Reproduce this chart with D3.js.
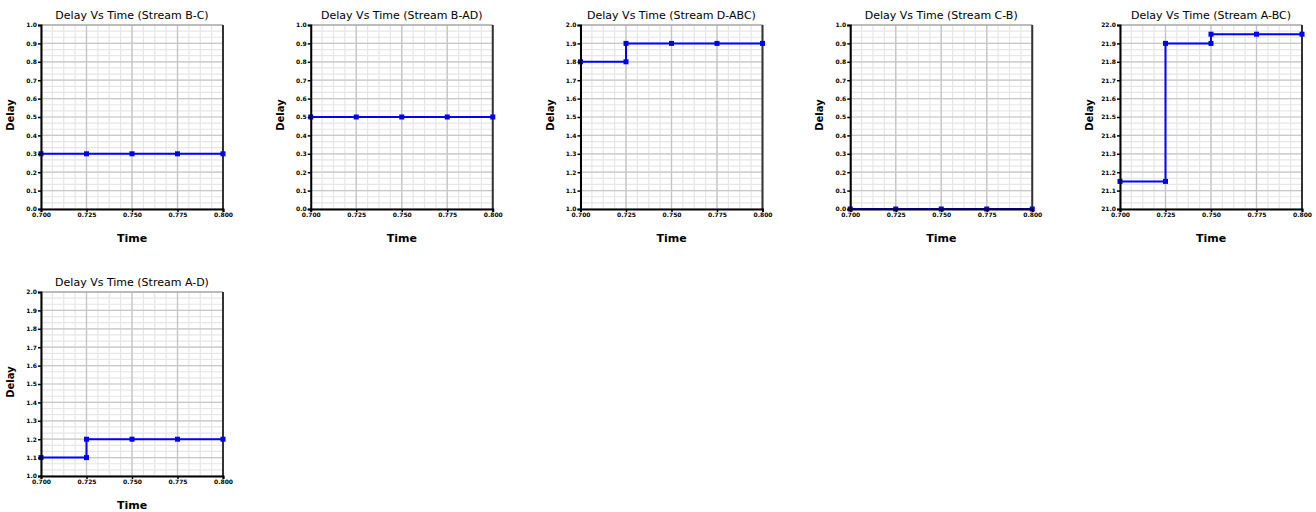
<!DOCTYPE html>
<html>
<head>
<meta charset="utf-8">
<script src="https://cdn.jsdelivr.net/npm/d3@7/dist/d3.min.js"></script>
<style>
  html, body { margin: 0; padding: 0; background: #ffffff; }
  svg { display: block; }
</style>
</head>
<body>
<svg id="chart" width="1316" height="512"></svg>
<script>
// ---------- data ----------
const titles = [
  "Delay Vs Time (Stream B-C)",
  "Delay Vs Time (Stream B-AD)",
  "Delay Vs Time (Stream D-ABC)",
  "Delay Vs Time (Stream C-B)",
  "Delay Vs Time (Stream A-BC)",
  "Delay Vs Time (Stream A-D)"
];
const timeTicks = [0.700, 0.725, 0.750, 0.775, 0.800];
const timeTickLabels = ["0.700", "0.725", "0.750", "0.775", "0.800"];
const yDomains = [
  [0, 1], [0, 1], [1, 2], [0, 1], [21, 22], [1, 2]
];
// [time, delay] samples (step-like, repeated times at transitions)
const seriesBC  = [[0.700, 0.3], [0.725, 0.3], [0.750, 0.3], [0.775, 0.3], [0.800, 0.3]];
const seriesBAD = [[0.700, 0.5], [0.725, 0.5], [0.750, 0.5], [0.775, 0.5], [0.800, 0.5]];
const seriesDABC = [[0.700, 1.8], [0.725, 1.8], [0.725, 1.9], [0.750, 1.9], [0.775, 1.9], [0.800, 1.9]];
const seriesCB  = [[0.700, 0.0], [0.725, 0.0], [0.750, 0.0], [0.775, 0.0], [0.800, 0.0]];
const seriesABC = [[0.700, 21.15], [0.725, 21.15], [0.725, 21.90], [0.750, 21.90], [0.750, 21.95], [0.775, 21.95], [0.800, 21.95]];
const seriesAD  = [[0.700, 1.1], [0.725, 1.1], [0.725, 1.2], [0.750, 1.2], [0.775, 1.2], [0.800, 1.2]];
const allSeries = [seriesBC, seriesBAD, seriesDABC, seriesCB, seriesABC, seriesAD];

// ---------- layout ----------
const svg = d3.select("#chart");
const plotW = 182, plotH = 184;
const colX = i => 41 + i * 269.75;
const rowY = r => 25 + r * 267;

allSeries.forEach((data, i) => {
  const col = i % 5, row = Math.floor(i / 5);
  const g = svg.append("g").attr("transform", `translate(${colX(col)},${rowY(row)})`);

  const x = d3.scaleLinear().domain([timeTicks[0], timeTicks[timeTicks.length - 1]]).range([0, plotW]);
  const y = d3.scaleLinear().domain(yDomains[i]).range([plotH, 0]);
  const yTicks = d3.range(11).map(k => yDomains[i][0] + k * (yDomains[i][1] - yDomains[i][0]) / 10);
  const dec = yDomains[i][1] > 10 ? 1 : 1;

  // minor grid
  const xMinor = d3.range(0, 17).map(k => timeTicks[0] + k * 0.025 / 4);
  const yMinor = d3.range(0, 31).map(k => yDomains[i][0] + k * (yDomains[i][1] - yDomains[i][0]) / 30);
  g.append("g").selectAll("line").data(xMinor).join("line")
    .attr("x1", d => x(d)).attr("x2", d => x(d)).attr("y1", 0).attr("y2", plotH)
    .attr("stroke", "#e6e6e6").attr("stroke-width", 1.2);
  g.append("g").selectAll("line").data(yMinor).join("line")
    .attr("x1", 0).attr("x2", plotW).attr("y1", d => y(d)).attr("y2", d => y(d))
    .attr("stroke", "#e6e6e6").attr("stroke-width", 1.2);
  // major grid
  g.append("g").selectAll("line").data(timeTicks).join("line")
    .attr("x1", d => x(d)).attr("x2", d => x(d)).attr("y1", 0).attr("y2", plotH)
    .attr("stroke", "#c4c4c4").attr("stroke-width", 1.3);
  g.append("g").selectAll("line").data(yTicks).join("line")
    .attr("x1", 0).attr("x2", plotW).attr("y1", d => y(d)).attr("y2", d => y(d))
    .attr("stroke", "#c8c8c8").attr("stroke-width", 1.2);

  // frame top/right
  g.append("line").attr("x1", 0).attr("x2", plotW).attr("y1", 0).attr("y2", 0)
    .attr("stroke", "#9a9a9a").attr("stroke-width", 1);
  g.append("line").attr("x1", plotW).attr("x2", plotW).attr("y1", 0).attr("y2", plotH)
    .attr("stroke", "#333").attr("stroke-width", 2);

  // series line
  const line = d3.line().x(d => x(d[0])).y(d => y(d[1]));
  g.append("path").datum(data).attr("d", line)
    .attr("fill", "none").attr("stroke", "#0000ff").attr("stroke-width", 2);
  g.append("g").selectAll("rect").data(data).join("rect")
    .attr("x", d => x(d[0]) - 2.5).attr("y", d => y(d[1]) - 2.5)
    .attr("width", 5).attr("height", 5).attr("fill", "#0000ee");

  // axes
  const xAxis = d3.axisBottom(x).tickValues(timeTicks).tickFormat((d, k) => timeTickLabels[k]).tickSize(3).tickPadding(1);
  const yAxis = d3.axisLeft(y).tickValues(yTicks).tickFormat(d3.format(".1f")).tickSize(3).tickPadding(1);
  const gx = g.append("g").attr("transform", `translate(0,${plotH})`).call(xAxis);
  const gy = g.append("g").call(yAxis);
  [gx, gy].forEach(a => {
    a.select(".domain").attr("stroke", "#000").attr("stroke-width", 2);
    a.selectAll(".tick line").attr("stroke", "#000").attr("stroke-width", 1.5);
    a.selectAll("text").attr("font-family", "DejaVu Sans").attr("font-size", 6)
      .attr("font-weight", "bold").attr("fill", "#000");
  });

  // title
  g.append("text").attr("x", plotW / 2).attr("y", -6).attr("text-anchor", "middle")
    .attr("font-family", "DejaVu Sans").attr("font-size", 11).attr("fill", "#000")
    .text(titles[i]);
  // axis titles
  g.append("text").attr("x", plotW / 2).attr("y", plotH + 33).attr("text-anchor", "middle")
    .attr("font-family", "DejaVu Sans").attr("font-size", 11).attr("font-weight", "bold").attr("fill", "#000")
    .text("Time");
  g.append("text").attr("transform", `translate(-27,${plotH / 2 - 2}) rotate(-90)`).attr("text-anchor", "middle")
    .attr("font-family", "DejaVu Sans").attr("font-size", 10).attr("font-weight", "bold").attr("fill", "#000")
    .text("Delay");
});
</script>
</body>
</html>
